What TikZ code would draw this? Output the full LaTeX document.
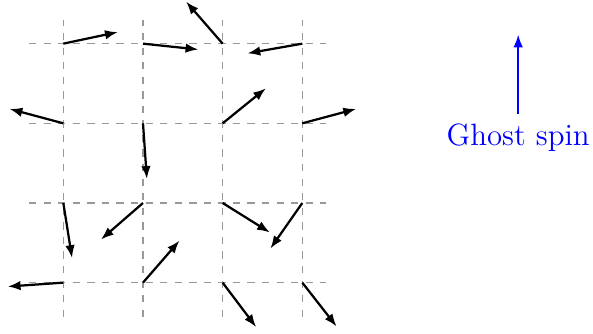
\documentclass[tikz,border=0pt]{standalone}
\usetikzlibrary{arrows.meta}

\begin{document}
\begin{tikzpicture}[line join=round,
  gridline/.style={black!40,dash pattern=on 2.6pt off 2.6pt},
  spin/.style={thick,-{Latex[length=4.6pt,width=3.4pt]}},
  ghostspin/.style={blue,thick,-{Latex[length=4.6pt,width=3.4pt]}}]
  \useasboundingbox (-0.795,-0.644) rectangle (6.649,3.548);

  \foreach \i in {0,...,3} {
    \draw[gridline] (-0.43,\i) -- (3.3,\i);
    \draw[gridline] (\i,-0.43) -- (\i,3.3);
  }

  \foreach \x/\y/\a in {0/3/12, 1/3/-6, 2/3/131, 3/3/190,
                        0/2/165, 1/2/-86, 2/2/39, 3/2/15,
                        0/1/-81, 1/1/221, 2/1/-32, 3/1/235,
                        0/0/184, 1/0/49, 2/0/-53, 3/0/-52} {
    \coordinate (site-\x-\y) at (\x,\y);
    \draw[spin] (site-\x-\y) -- ++(\a:0.7);
  }

  \node[blue,anchor=base,font=\fontsize{11}{13}\selectfont] (ghost) at (5.71,1.72) {Ghost spin};
  \draw[ghostspin] (ghost.north) -- ++(0,1);
\end{tikzpicture}
\end{document}
